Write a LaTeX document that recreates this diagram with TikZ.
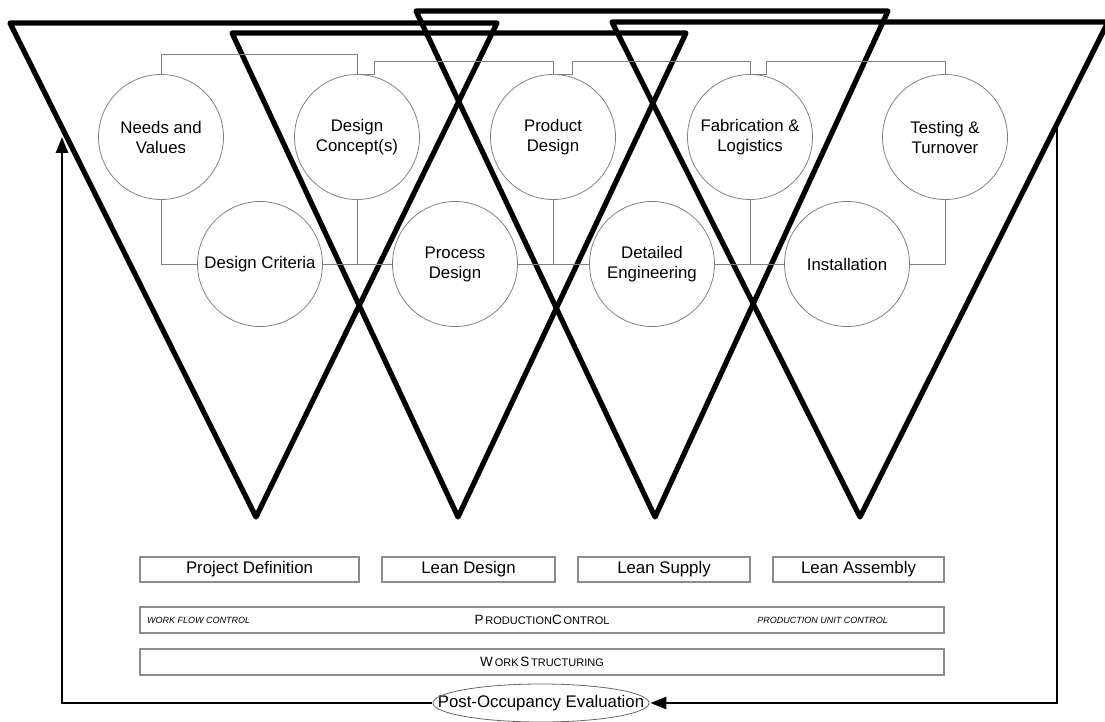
\documentclass[tikz,border=0pt]{standalone}
\usepackage{fontspec}
\setmainfont{Liberation Sans}
\usetikzlibrary{arrows.meta}
% mixed-size capitals standing in for small caps
\newcommand{\capsmix}[2]{{\fontsize{13.5}{14}\selectfont #1}{\fontsize{11}{14}\selectfont #2}}
\begin{document}
\begin{tikzpicture}[x=1pt,y=-1pt,
  vee/.style={line width=5.2pt, line join=round, line cap=round},
  stage/.style={circle, draw=black!50, line width=0.8pt, minimum size=125pt,
    inner sep=0pt, align=center, font=\fontsize{16.8}{20}\selectfont},
  link/.style={draw=black!50, line width=0.9pt},
  phase/.style={draw=black!45, line width=1.2pt, minimum height=25pt,
    inner sep=0pt, font=\fontsize{16.8}{19}\selectfont},
  band/.style={draw=black!45, line width=1.2pt, minimum width=804pt,
    minimum height=26pt, inner sep=0pt},
  small/.style={inner sep=0pt, font=\fontsize{9}{10}\selectfont\itshape},
  loopline/.style={line width=2.5pt},
  tip/.style={-{Triangle[length=16pt,width=12pt]}}
]
\useasboundingbox (0,0) rectangle (1105,722);

% the four overlapping V's
\draw[vee] (10,23) -- (497,23) -- (256,517) -- cycle;
\draw[vee] (232,33) -- (686,33) -- (458,517) -- cycle;
\draw[vee] (416,11) -- (888,11) -- (655,517) -- cycle;
\draw[vee] (612,22) -- (1108,22) -- (860,517) -- cycle;

% stages
\node[stage] (nv)  at (161,137) {Needs and\\Values};
\node[stage] (dc)  at (357,137) {Design\\Concept(s)};
\node[stage] (pd)  at (553,137) {Product\\Design};
\node[stage] (fl)  at (750,137) {Fabrication \&\\Logistics};
\node[stage] (tt)  at (945,137) {Testing \&\\Turnover};
\node[stage] (cr)  at (260,264) {Design Criteria};
\node[stage] (prd) at (455,264) {Process\\Design};
\node[stage] (de)  at (652,264) {Detailed\\Engineering};
\node[stage] (ins) at (847,264) {Installation};

% upper brackets
\draw[link] (nv.north) -- ++(0,-20) -| (dc.north);
\draw[link] (dc.north) -- ++(17,0) -- ++(0,-13) -| (pd.north);
\draw[link] (pd.north) -- ++(19,0) -- ++(0,-13) -| (fl.north);
\draw[link] (fl.north) -- ++(16,0) -- ++(0,-13) -| (tt.north);

% lower chain
\draw[link] (nv.south) |- (cr.west);
\draw[link] (cr.east) -- (prd.west);
\draw[link] (prd.east) -- (de.west);
\draw[link] (de.east) -- (ins.west);
\draw[link] (ins.east) -| (tt.south);
\draw[link] (dc.south) -- (dc.south |- cr.east);
\draw[link] (pd.south) -- (pd.south |- prd.east);
\draw[link] (fl.south) -- (fl.south |- de.east);

% phases
\node[phase, minimum width=219pt] (pdef) at (249.5,569.5) {Project Definition};
\node[phase, minimum width=173pt] (ld)   at (468.5,569.5) {Lean Design};
\node[phase, minimum width=172pt] (ls)   at (664,569.5)   {Lean Supply};
\node[phase, minimum width=171pt] (la)   at (858.5,569.5) {Lean Assembly};

% control bands
\node[band] (pc) at (542,620) {\capsmix{P}{\,RODUCTION}\capsmix{C}{\,ONTROL}};
\node[small, anchor=west] (wfc) at (147,620) {WORK FLOW CONTROL};
\node[small, anchor=east] (puc) at (888,620) {PRODUCTION UNIT CONTROL};
\node[band] (ws) at (542,662) {\capsmix{W}{\,ORK}\,\capsmix{S}{\,TRUCTURING}};

% feedback loop
\node[inner xsep=6pt, inner ysep=0pt, font=\fontsize{16.8}{19}\selectfont] (poe) at (541,703) {Post-Occupancy Evaluation};
\draw[black!60, line width=0.8pt] (poe.center) ellipse [x radius=108pt, y radius=19pt];
\coordinate (rt) at (1057,126);
\coordinate (lt) at (62,137);
\draw[loopline, tip] (rt) |- (poe.east);
\draw[loopline, tip] (poe.west) -| (lt);
\end{tikzpicture}
\end{document}
